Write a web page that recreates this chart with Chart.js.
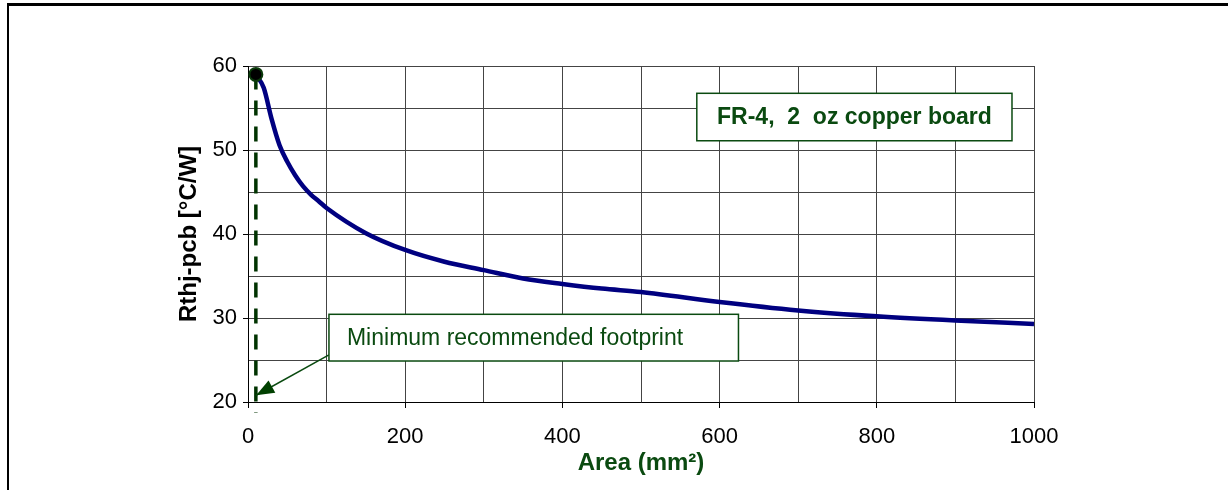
<!DOCTYPE html>
<html>
<head>
<meta charset="utf-8">
<script src="https://cdn.jsdelivr.net/npm/chart.js@4.4.0/dist/chart.umd.min.js"></script>
<style>
  body { margin: 0; background: #fff; }
  #wrap { position: relative; width: 1228px; height: 490px; }
  #frame { position: absolute; left: 7px; top: 3px; right: 0; bottom: 0;
           border-top: 3px solid #000; border-left: 2px solid #000; pointer-events: none; }
  canvas { position: absolute; left: 0; top: 0; }
</style>
</head>
<body>
<div id="wrap">
  <canvas id="rthChart" width="1228" height="490"></canvas>
  <div id="frame"></div>
</div>
<script>
// Thermal resistance junction-pcb vs copper area
const areaMm2 = [10, 20, 30, 40, 50, 60, 70, 80, 90, 100, 150, 200, 250, 300, 350, 400, 450, 500, 600, 700, 800, 900, 1000];
const rthValues = [59, 57.4, 53.7, 50.6, 48.6, 47.0, 45.7, 44.7, 43.9, 43.1, 40.1, 38.1, 36.7, 35.7, 34.7, 34.05, 33.5, 33.1, 31.9, 30.9, 30.2, 29.7, 29.3];

// minimum footprint marker (area, Rth)
const footprintArea = [10, 10];
const footprintRth = [59, 18.7];

const xLabelStep = 200;
const yLabelStep = 10;

const green = '#0a4a10';
const fontFamily = '"Liberation Sans", Arial, sans-serif';

// boxes and arrow, given in data coordinates
const annotationPlugin = {
    id: 'notes',
    afterDatasetsDraw(chart) {
        const ctx = chart.ctx;
        const xs = chart.scales.x, ys = chart.scales.y;
        const px = v => xs.getPixelForValue(v);
        const py = v => ys.getPixelForValue(v);

        function box(x0, y0, x1, y1, text, bold, align) {
            const l = px(x0), r = px(x1), t = py(y0), b = py(y1);
            ctx.save();
            ctx.fillStyle = '#fff';
            ctx.fillRect(l, t, r - l, b - t);
            ctx.strokeStyle = green;
            ctx.lineWidth = 1.5;
            ctx.strokeRect(l, t, r - l, b - t);
            ctx.fillStyle = green;
            ctx.font = (bold ? 'bold ' : '') + '23px ' + fontFamily;
            ctx.textBaseline = 'middle';
            if (align === 'center') {
                ctx.textAlign = 'center';
                ctx.fillText(text, (l + r) / 2, (t + b) / 2 + 1);
            } else {
                ctx.textAlign = 'left';
                ctx.fillText(text, l + 18, (t + b) / 2 + 1);
            }
            ctx.restore();
        }

        box(571, 56.75, 972, 51.1, 'FR-4,  2  oz copper board', true, 'center');

        // arrow from footprint box to marker base
        const ax0 = px(103), ay0 = py(25.6), ax1 = px(10.4), ay1 = py(20.8);
        ctx.save();
        ctx.strokeStyle = green;
        ctx.fillStyle = '#004000';
        ctx.lineWidth = 1.5;
        ctx.beginPath();
        ctx.moveTo(ax0, ay0);
        ctx.lineTo(ax1, ay1);
        ctx.stroke();
        const ang = Math.atan2(ay1 - ay0, ax1 - ax0);
        const len = 18, half = 7;
        ctx.beginPath();
        ctx.moveTo(ax1, ay1);
        ctx.lineTo(ax1 - len * Math.cos(ang) + half * Math.sin(ang), ay1 - len * Math.sin(ang) - half * Math.cos(ang));
        ctx.lineTo(ax1 - len * Math.cos(ang) - half * Math.sin(ang), ay1 - len * Math.sin(ang) + half * Math.cos(ang));
        ctx.closePath();
        ctx.fill();
        ctx.restore();

        box(103, 30.44, 624, 24.88, 'Minimum recommended footprint', false, 'left');
    }
};

const ctx = document.getElementById('rthChart').getContext('2d');
const rthChart = new Chart(ctx, {
    type: 'scatter',
    data: {
        datasets: [
            {
                label: 'footprint point',
                data: [{ x: footprintArea[0], y: footprintRth[0] }],
                pointRadius: 6.5,
                backgroundColor: '#000',
                borderColor: '#0a3a0a',
                borderWidth: 2,
                showLine: false
            },
            {
                label: 'Rthj-pcb',
                data: areaMm2.map((a, i) => ({ x: a, y: rthValues[i] })),
                showLine: true,
                borderColor: '#000080',
                borderWidth: 4.5,
                pointRadius: 0,
                cubicInterpolationMode: 'monotone',
                fill: false
            },
            {
                label: 'footprint line',
                data: footprintArea.map((a, i) => ({ x: a, y: footprintRth[i] })),
                showLine: true,
                borderColor: '#003300',
                borderWidth: 3.5,
                borderDash: [15, 11],
                pointRadius: 0,
                clip: false
            }
        ]
    },
    options: {
        responsive: false,
        animation: false,
        layout: { padding: { left: 171, top: 66, right: 194, bottom: 8 } },
        plugins: {
            legend: { display: false },
            tooltip: { enabled: false }
        },
        scales: {
            x: {
                type: 'linear',
                min: 0,
                max: 1000,
                afterFit: scale => { scale.height = 80; },
                ticks: {
                    stepSize: 100,
                    autoSkip: false,
                    maxRotation: 0,
                    padding: 16,
                    color: '#000',
                    font: { family: fontFamily, size: 22 },
                    callback: v => (v % xLabelStep === 0 ? v : '')
                },
                grid: {
                    color: '#444',
                    lineWidth: 1,
                    tickLength: 6,
                    tickColor: c => (c.tick && c.tick.value % xLabelStep === 0 ? '#000' : 'rgba(0,0,0,0)')
                },
                border: { color: '#000', width: 1 },
                title: {
                    display: true,
                    text: 'Area (mm²)',
                    color: green,
                    padding: 4,
                    font: { family: fontFamily, size: 24, weight: 'bold' }
                }
            },
            y: {
                min: 20,
                max: 60,
                afterFit: scale => { scale.width = 248 - 171; },
                ticks: {
                    stepSize: 5,
                    autoSkip: false,
                    padding: 6,
                    color: '#000',
                    font: { family: fontFamily, size: 22 },
                    callback: v => (v % yLabelStep === 0 ? v : '')
                },
                grid: {
                    color: '#444',
                    lineWidth: 1,
                    tickLength: 5,
                    tickColor: c => (c.tick && c.tick.value % yLabelStep === 0 ? '#000' : 'rgba(0,0,0,0)')
                },
                border: { color: '#000', width: 1 },
                title: {
                    display: true,
                    text: 'Rthj-pcb [°C/W]',
                    color: '#000',
                    padding: 4,
                    font: { family: fontFamily, size: 24, weight: 'bold' }
                }
            }
        }
    },
    plugins: [annotationPlugin]
});
</script>
</body>
</html>
